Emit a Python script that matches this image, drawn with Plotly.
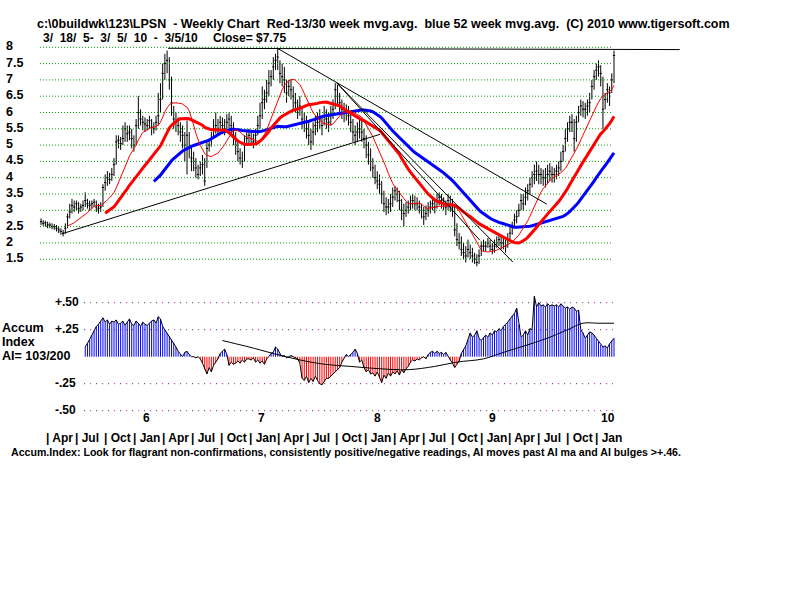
import plotly.graph_objects as go
import pandas as pd

# ---------------- data ----------------
start = pd.Timestamp("2005-03-18")   # first weekly bar (3/18/05), 260 weeks to 3/5/10

close = [
    2.65, 2.6, 2.62, 2.55, 2.55, 2.5, 2.5, 2.45, 2.4, 2.35,
    2.3, 2.45, 2.8, 2.95, 3.15, 3.1, 3.2, 3.05, 3.1, 3.15,
    3.3, 3.2, 3.15, 3.2, 3.25, 3.1, 3.05, 3.1, 3.7, 3.85,
    4.0, 3.95, 4.1, 4.4, 5.1, 5.15, 5.05, 5.2, 5.5, 5.35,
    5.4, 5.2, 5.0, 5.6, 6.0, 5.8, 5.7, 5.65, 5.6, 5.75,
    5.55, 5.5, 5.7, 5.9, 6.4, 7.2, 7.5, 7.6, 7.0, 6.3,
    5.8, 5.7, 5.6, 5.4, 5.3, 5.0, 5.3, 4.9, 4.6, 4.5,
    4.3, 4.1, 4.3, 4.4, 3.9, 4.9, 5.0, 5.2, 5.5, 5.6,
    5.5, 5.7, 5.6, 5.5, 5.7, 5.8, 5.6, 5.3, 5.0, 4.8,
    4.6, 4.5, 5.0, 5.2, 5.3, 5.2, 5.1, 5.3, 5.6, 5.9,
    6.3, 6.4, 6.6, 6.9, 7.1, 7.4, 7.6, 7.7, 7.2, 7.1,
    7.0, 6.6, 6.8, 6.7, 6.5, 6.3, 6.0, 6.2, 5.8, 5.7,
    5.5, 5.3, 5.1, 5.4, 5.6, 5.7, 5.8, 5.6, 5.9, 5.8,
    5.7, 5.9, 6.1, 6.7, 6.5, 6.3, 6.1, 6.0, 6.0, 5.9,
    5.7, 5.4, 5.3, 5.4, 5.5, 5.4, 5.2, 5.0, 4.7, 4.5,
    4.3, 4.0, 3.9, 3.8, 3.5, 3.2, 3.1, 3.1, 3.2, 3.4,
    3.6, 3.5, 3.3, 3.0, 2.9, 3.0, 3.1, 3.2, 3.3, 3.2,
    3.2, 3.1, 3.0, 2.8, 2.9, 3.0, 3.1, 3.2, 3.1, 3.3,
    3.4, 3.3, 3.2, 3.1, 3.3, 3.2, 3.1, 2.4, 2.1, 2.0,
    1.8, 1.7, 1.6, 1.8, 1.7, 1.6, 1.5, 1.4, 1.6, 1.9,
    1.9, 1.9, 2.0, 1.9, 1.8, 1.9, 2.0, 2.1, 2.0, 2.0,
    1.9, 2.1, 2.3, 2.5, 2.7, 2.8, 3.0, 3.3, 3.2, 3.4,
    3.6, 3.8, 4.0, 4.1, 4.2, 4.1, 4.1, 4.0, 4.0, 4.1,
    4.2, 4.1, 4.1, 4.2, 4.3, 4.5, 4.8, 5.2, 5.5, 5.7,
    5.7, 5.2, 5.7, 6.0, 6.2, 6.1, 6.1, 6.2, 6.3, 6.8,
    7.1, 7.3, 7.4, 7.2, 6.1, 6.4, 6.7, 6.6, 7.0, 7.75,
]

high = [
    2.75, 2.7, 2.68, 2.65, 2.62, 2.6, 2.58, 2.55, 2.5, 2.45,
    2.4, 2.6, 2.9, 3.2, 3.35, 3.3, 3.3, 3.25, 3.2, 3.3,
    3.55, 3.35, 3.3, 3.3, 3.35, 3.3, 3.2, 3.25, 3.8, 4.1,
    4.2, 4.15, 4.3, 4.6, 5.3, 5.3, 5.25, 5.6, 5.7, 5.6,
    5.6, 5.5, 5.3, 5.8, 6.5, 6.1, 5.9, 5.85, 5.8, 5.9,
    5.8, 5.7, 5.9, 6.6, 6.9, 7.5, 7.8, 7.9, 7.7, 7.1,
    6.2, 6.0, 5.85, 5.7, 5.6, 5.4, 5.75, 5.4, 5.0, 4.8,
    4.6, 4.4, 4.5, 4.7, 4.6, 5.1, 5.2, 5.4, 5.8, 6.0,
    5.8, 5.9, 5.85, 5.8, 5.95, 6.0, 5.9, 5.7, 5.4, 5.1,
    4.9, 4.8, 5.3, 5.4, 5.5, 5.45, 5.35, 5.5, 5.9, 6.3,
    6.8, 6.7, 7.0, 7.3, 7.3, 7.7, 7.8, 7.95, 7.6, 7.5,
    7.4, 7.0, 7.0, 7.0, 6.8, 6.6, 6.4, 6.5, 6.2, 6.0,
    5.9, 5.7, 5.5, 5.7, 5.9, 6.0, 6.1, 5.9, 6.2, 6.1,
    6.0, 6.2, 6.4, 6.9, 6.85, 6.6, 6.4, 6.3, 6.25, 6.2,
    6.0, 5.8, 5.6, 5.7, 5.8, 5.75, 5.5, 5.3, 5.1, 4.9,
    4.6, 4.4, 4.2, 4.1, 3.9, 3.6, 3.4, 3.35, 3.5, 3.7,
    3.75, 3.7, 3.6, 3.35, 3.2, 3.25, 3.3, 3.45, 3.5, 3.45,
    3.4, 3.3, 3.2, 3.1, 3.15, 3.25, 3.3, 3.4, 3.35, 3.5,
    3.55, 3.5, 3.4, 3.3, 3.5, 3.45, 3.35, 3.1, 2.6, 2.3,
    2.2, 2.0, 1.9, 2.1, 1.95, 1.85, 1.7, 1.65, 1.8, 2.05,
    2.1, 2.05, 2.15, 2.1, 2.0, 2.1, 2.2, 2.25, 2.2, 2.15,
    2.1, 2.3, 2.5, 2.65, 2.9, 3.0, 3.2, 3.5, 3.5, 3.7,
    3.8, 4.0, 4.2, 4.4, 4.5, 4.4, 4.3, 4.25, 4.3, 4.4,
    4.45, 4.35, 4.3, 4.4, 4.5, 4.8, 5.0, 5.5, 5.7, 5.9,
    5.95, 5.8, 5.9, 6.2, 6.4, 6.35, 6.3, 6.4, 6.6, 7.0,
    7.3, 7.5, 7.6, 7.45, 7.1, 6.6, 6.9, 6.8, 7.2, 7.9,
]

low = [
    2.55, 2.52, 2.5, 2.45, 2.45, 2.42, 2.4, 2.35, 2.3, 2.25,
    2.2, 2.28, 2.45, 2.75, 2.9, 2.95, 3.0, 2.9, 2.95, 3.0,
    3.1, 3.05, 3.0, 3.05, 3.1, 2.95, 2.9, 2.95, 3.1, 3.6,
    3.75, 3.8, 3.9, 4.05, 4.4, 4.9, 4.85, 5.0, 5.1, 5.1,
    5.15, 4.9, 4.8, 5.0, 5.5, 5.6, 5.45, 5.4, 5.45, 5.5,
    5.3, 5.35, 5.45, 5.6, 6.0, 6.4, 7.0, 7.2, 6.7, 5.9,
    5.5, 5.4, 5.3, 5.1, 4.9, 4.5, 4.1, 4.6, 4.2, 4.2,
    4.0, 3.95, 4.05, 4.1, 3.75, 4.3, 4.8, 4.95, 5.2, 5.35,
    5.3, 5.45, 5.35, 5.3, 5.45, 5.5, 5.3, 5.0, 4.7, 4.5,
    4.4, 4.3, 4.5, 5.0, 5.05, 5.0, 4.9, 5.05, 5.3, 5.5,
    5.8, 6.1, 6.3, 6.5, 6.8, 7.0, 7.3, 7.3, 6.9, 6.8,
    6.6, 6.3, 6.5, 6.4, 6.1, 6.0, 5.8, 5.9, 5.5, 5.4,
    5.2, 5.0, 4.85, 5.0, 5.3, 5.4, 5.5, 5.3, 5.6, 5.5,
    5.4, 5.6, 5.8, 6.1, 6.2, 6.0, 5.8, 5.7, 5.75, 5.6,
    5.4, 5.1, 5.0, 5.1, 5.2, 5.1, 4.9, 4.6, 4.4, 4.2,
    4.0, 3.8, 3.65, 3.5, 3.2, 2.95, 2.85, 2.9, 2.95, 3.1,
    3.3, 3.25, 3.0, 2.7, 2.5, 2.8, 2.9, 3.0, 3.05, 3.0,
    3.0, 2.9, 2.75, 2.55, 2.7, 2.8, 2.9, 3.0, 2.9, 3.05,
    3.15, 3.05, 3.0, 2.85, 3.0, 2.95, 2.8, 2.2, 1.9, 1.8,
    1.6, 1.5, 1.4, 1.55, 1.5, 1.4, 1.35, 1.28, 1.35, 1.6,
    1.75, 1.75, 1.85, 1.75, 1.65, 1.7, 1.85, 1.9, 1.8, 1.8,
    1.7, 1.85, 2.05, 2.25, 2.5, 2.6, 2.8, 3.0, 3.0, 3.15,
    3.3, 3.5, 3.7, 3.8, 3.9, 3.8, 3.8, 3.75, 3.7, 3.8,
    3.9, 3.85, 3.85, 3.95, 4.05, 4.2, 4.5, 4.8, 5.1, 5.4,
    5.4, 4.8, 5.1, 5.7, 5.9, 5.85, 5.8, 5.9, 6.0, 6.4,
    6.7, 7.0, 7.1, 6.8, 5.5, 6.1, 6.3, 6.2, 6.6, 6.9,
]

# Accumulation index (starts at week 20)
ai_start = 20
ai_vals = [
    0.09, 0.12, 0.16, 0.2, 0.24, 0.28, 0.3, 0.33, 0.36, 0.32,
    0.34, 0.3, 0.33, 0.32, 0.34, 0.3, 0.31, 0.33, 0.29, 0.32,
    0.35, 0.3, 0.29, 0.33, 0.31, 0.28, 0.32, 0.3, 0.29, 0.31,
    0.33, 0.34, 0.31, 0.37, 0.35, 0.28, 0.25, 0.22, 0.19, 0.16,
    0.13, 0.09, 0.05, 0.02, 0.0, 0.04, 0.05, 0.02, 0.0, 0.0,
    -0.01, 0.0, -0.02, -0.06, -0.12, -0.16, -0.1, -0.14, -0.08, -0.05,
    -0.02, 0.03, 0.05, 0.07, 0.02, -0.08, -0.05, -0.07, -0.06, -0.04,
    -0.06, -0.03, -0.05, -0.02, -0.02, -0.03, -0.01, -0.05, -0.03, -0.06,
    -0.04, -0.07, -0.02, 0.0, 0.03, 0.04, 0.09, 0.07, 0.03, 0.0,
    0.01, -0.01, 0.0, 0.01, 0.0, -0.01, -0.02, -0.06, -0.2, -0.22,
    -0.18, -0.24, -0.2, -0.23, -0.18, -0.22, -0.25, -0.26, -0.23, -0.2,
    -0.2, -0.18, -0.16, -0.14, -0.12, -0.1, -0.05, -0.01, 0.02, 0.0,
    0.02, 0.04, 0.07, 0.03, -0.05, -0.03, -0.1, -0.14, -0.12, -0.16,
    -0.15, -0.18, -0.14, -0.2, -0.24, -0.17, -0.2, -0.15, -0.18, -0.14,
    -0.16, -0.13, -0.17, -0.12, -0.15, -0.11, -0.09, -0.05, -0.03, -0.04,
    -0.02, -0.03, -0.01, 0.0, -0.02, 0.02, 0.04, 0.05, 0.03, 0.05,
    0.03, 0.04, 0.02, 0.04, 0.0, -0.03, -0.06, -0.1, -0.07, -0.04,
    0.03, 0.07, 0.1, 0.16, 0.22, 0.18, 0.2, 0.24, 0.17, 0.15,
    0.18, 0.2, 0.18, 0.22, 0.2, 0.24, 0.23, 0.26, 0.24, 0.28,
    0.3, 0.32, 0.35, 0.38, 0.4, 0.45, 0.3, 0.18, 0.2, 0.24,
    0.2, 0.26, 0.25, 0.56, 0.46, 0.5, 0.47, 0.48, 0.46, 0.49,
    0.47, 0.48, 0.47, 0.48, 0.46, 0.49, 0.47, 0.45, 0.46, 0.44,
    0.46, 0.45, 0.42, 0.43, 0.25, 0.22, 0.17, 0.2, 0.23, 0.22,
    0.2, 0.17, 0.14, 0.11, 0.09, 0.1, 0.08, 0.12, 0.15, 0.17,
]

# AI moving average (week index, value)
ai_ma_week = [82, 88, 94, 105, 117, 128, 140, 152, 166, 178, 188, 200, 209, 220, 230, 238, 245, 252, 259]
ai_ma_val = [0.15, 0.12, 0.09, 0.03, -0.03, -0.07, -0.09, -0.11, -0.12, -0.09, -0.05, -0.02, 0.04, 0.11, 0.18, 0.25, 0.31, 0.31, 0.31]

# trend lines: (week_start, price_start, week_end, price_end)
trend_lines = [
    (9.5, 2.28, 153.2, 5.33),
    (57.4, 7.97, 288.7, 7.93),
    (106.6, 7.98, 228.6, 3.19),
    (133.8, 6.90, 213.3, 1.41),
    (133.8, 6.90, 198.4, 2.08),
]

price_levels = [8, 7.5, 7, 6.5, 6, 5.5, 5, 4.5, 4, 3.5, 3, 2.5, 2, 1.5]
price_labels = ["8", "7.5", "7", "6.5", "6", "5.5", "5", "4.5", "4", "3.5", "3", "2.5", "2", "1.5"]
ai_levels = [0.5, 0.25, -0.25, -0.5]
ai_labels = ["+.50", "+.25", "-.25", "-.50"]
quarter_dates = pd.date_range("2005-04-01", "2010-01-01", freq="QS")
quarter_names = {1: "Jan", 4: "Apr", 7: "Jul", 10: "Oct"}
year_labels = ["6", "7", "8", "9", "10"]
year_dates = ["2006-02-15", "2007-02-15", "2008-02-15", "2009-02-15", "2010-02-15"]

# ---------------- build ----------------
n = len(close)
def wdate(w):
    return start + pd.Timedelta(days=7 * w)

dates = [wdate(i) for i in range(n)]
s = pd.Series(close)
ma13 = s.rolling(13).mean()
ma30 = s.rolling(30).mean()
ma52 = s.rolling(52).mean()

fig = go.Figure()

# price grid (green dotted)
gx, gy = [], []
for lv in price_levels:
    gx += [wdate(-0.45), wdate(258.5), None]
    gy += [lv, lv, None]
fig.add_trace(go.Scatter(x=gx, y=gy, mode="lines", line=dict(color="#00a000", width=1, dash="1px,2px"),
                         hoverinfo="skip", showlegend=False))

# AI grid (black + magenta dots)
ax, ay = [], []
for lv in ai_levels:
    ax += [wdate(19.5), wdate(258.5), None]
    ay += [lv, lv, None]
fig.add_trace(go.Scatter(x=ax, y=ay, yaxis="y2", mode="lines",
                         line=dict(color="#303030", width=1, dash="1px,11px"), hoverinfo="skip", showlegend=False))
fig.add_trace(go.Scatter(x=ax, y=ay, yaxis="y2", mode="lines",
                         line=dict(color="#c000c0", width=1, dash="0px,6px,1px,5px"), hoverinfo="skip", showlegend=False))

# price bars
fig.add_trace(go.Ohlc(x=dates, open=close, high=high, low=low, close=close, tickwidth=0.5,
                      increasing=dict(line=dict(color="black", width=1)),
                      decreasing=dict(line=dict(color="black", width=1)),
                      hoverinfo="skip", showlegend=False))

# moving averages
fig.add_trace(go.Scatter(x=dates, y=ma52, mode="lines", line=dict(color="#0000ff", width=3), showlegend=False))
fig.add_trace(go.Scatter(x=dates, y=ma30, mode="lines", line=dict(color="#ff0000", width=3), showlegend=False))
fig.add_trace(go.Scatter(x=dates, y=ma13, mode="lines", line=dict(color="#ff0000", width=1), showlegend=False))

# trend lines
for (w0, p0, w1, p1) in trend_lines:
    fig.add_trace(go.Scatter(x=[wdate(w0), wdate(w1)], y=[p0, p1], mode="lines",
                             line=dict(color="black", width=1), showlegend=False))

# accumulation index: thin vertical stripes from zero
ai_dates = dates[ai_start:]
bx, by, rx, ry = [], [], [], []
for d, v in zip(ai_dates, ai_vals):
    if v >= 0:
        bx += [d, d, None]; by += [0, v, None]
    else:
        rx += [d, d, None]; ry += [0, v, None]
fig.add_trace(go.Scatter(x=bx, y=by, yaxis="y2", mode="lines", line=dict(color="#0000ff", width=1), showlegend=False))
fig.add_trace(go.Scatter(x=rx, y=ry, yaxis="y2", mode="lines", line=dict(color="#ff0000", width=1), showlegend=False))
fig.add_trace(go.Scatter(x=ai_dates, y=ai_vals, yaxis="y2", mode="lines",
                         line=dict(color="black", width=1), showlegend=False))
fig.add_trace(go.Scatter(x=[wdate(w) for w in ai_ma_week], y=ai_ma_val, yaxis="y2", mode="lines",
                         line=dict(color="black", width=1, shape="spline"), showlegend=False))

# ---------------- layout (pixel mapping) ----------------
W, H = 800, 600
px0, pxw = 41.0, 573.0 / 259.0
x_left = wdate((0 - px0) / pxw)
x_right = wdate((W - px0) / pxw)
py8, ppu = 47.3, 32.6
y_lo = 8 - (H - py8) / ppu
y_hi = 8 + py8 / ppu
ai0, apu = 356.7, 108.0
a_lo = (ai0 - H) / apu
a_hi = ai0 / apu

font = "Liberation Sans, Arial, sans-serif"
ann = []
def txt(text, x, y, xref="paper", yref="paper", xanchor="left", size=12, yshift=0):
    ann.append(dict(text="<b>" + text + "</b>", x=x, y=y, xref=xref, yref=yref, xanchor=xanchor,
                    yanchor="middle", showarrow=False, font=dict(family=font, size=size, color="black"),
                    borderpad=0, yshift=yshift))

NB = "&nbsp;"
txt("c:\\0buildwk\\123\\LPSN" + NB * 2 + "- Weekly Chart" + NB * 2 + "Red-13/30 week mvg.avg." + NB * 2
    + "blue 52 week mvg.avg." + NB * 2 + "(C) 2010 www.tigersoft.com", 36 / W, 1 - 24 / H, size=12.5)
txt("3/" + NB * 2 + "18/" + NB * 2 + "5-" + NB * 2 + "3/" + NB * 2 + "5/" + NB * 2 + "10" + NB * 2 + "-" + NB * 2 + "3/5/10",
    42 / W, 1 - 38 / H)
txt("Close= $7.75", 212 / W, 1 - 38 / H)
for lv, lb in zip(price_levels, price_labels):
    txt(lb, 5 / W, lv, yref="y", yshift=1, size=12.5)
for lv, lb in zip(ai_levels, ai_labels):
    txt(lb, 54 / W, lv, yref="y2", yshift=1)
txt("Accum", 1 / W, 1 - 328 / H, size=12.5)
txt("Index", 1 / W, 1 - 342 / H, size=12.5)
txt("AI= 103/200", 1 / W, 1 - 356 / H, size=12.5)
for d, lb in zip(year_dates, year_labels):
    txt(lb, pd.Timestamp(d), 1 - 418 / H, xref="x", xanchor="center")
for d in quarter_dates:
    txt("| " + quarter_names[d.month], d, 1 - 438 / H, xref="x", xanchor="left")
txt("Accum.Index: Look for flagrant non-confirmations, consistently positive/negative readings, AI moves past AI ma and AI bulges &gt;+.46.",
    10 / W, 1 - 452 / H, size=10.6)

fig.update_layout(
    width=W, height=H, margin=dict(l=0, r=0, t=0, b=0),
    paper_bgcolor="white", plot_bgcolor="white",
    showlegend=False,
    xaxis=dict(range=[x_left, x_right], visible=False, rangeslider=dict(visible=False), fixedrange=True),
    yaxis=dict(range=[y_lo, y_hi], domain=[0, 1], visible=False, fixedrange=True),
    yaxis2=dict(range=[a_lo, a_hi], overlaying="y", visible=False, fixedrange=True),
    annotations=ann,
)

fig.write_html("out.html")
